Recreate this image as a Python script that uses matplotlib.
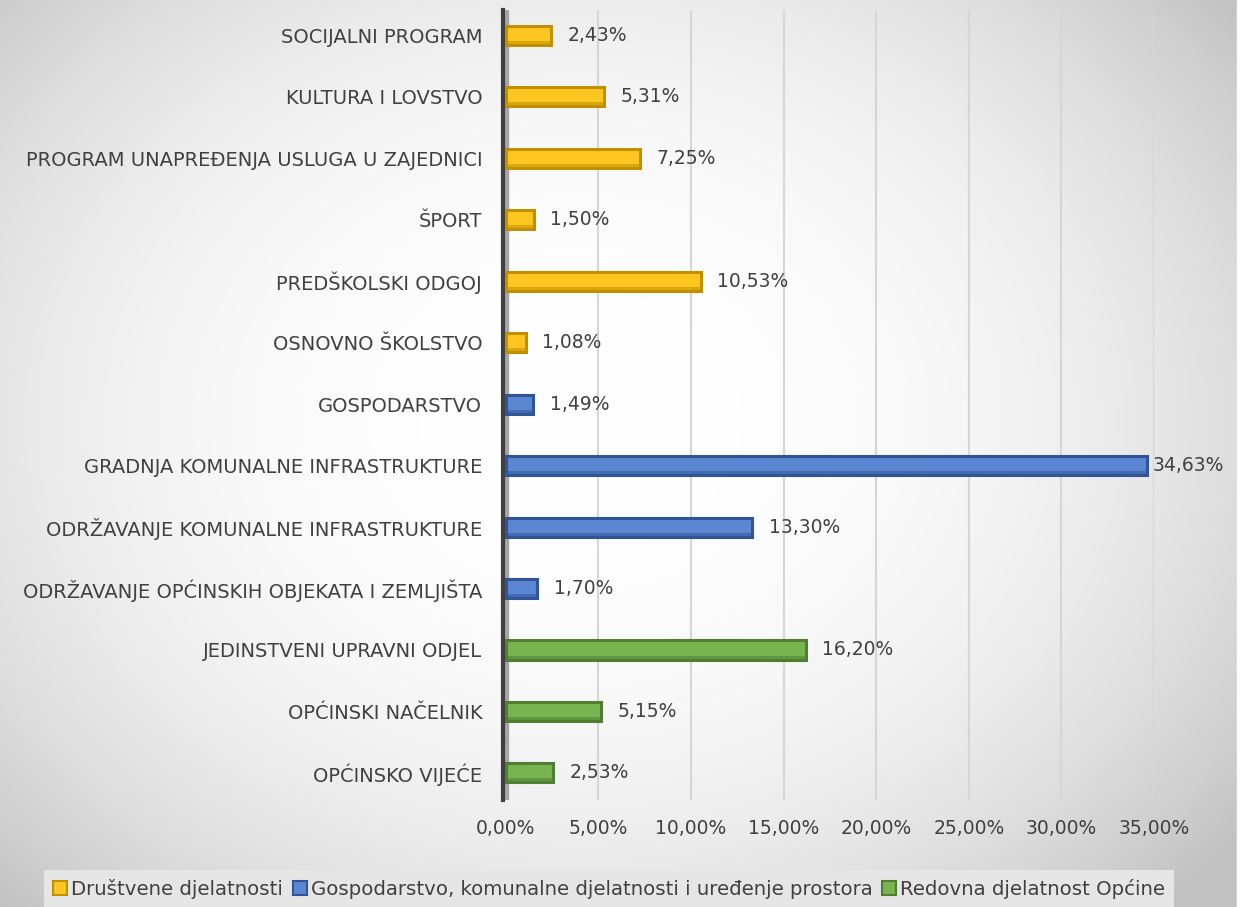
import matplotlib.pyplot as plt
from matplotlib.patches import Patch, Rectangle
import numpy as np

# categories top to bottom
categories = [
    "SOCIJALNI PROGRAM",
    "KULTURA I LOVSTVO",
    "PROGRAM UNAPREĐENJA USLUGA U ZAJEDNICI",
    "ŠPORT",
    "PREDŠKOLSKI ODGOJ",
    "OSNOVNO ŠKOLSTVO",
    "GOSPODARSTVO",
    "GRADNJA KOMUNALNE INFRASTRUKTURE",
    "ODRŽAVANJE KOMUNALNE INFRASTRUKTURE",
    "ODRŽAVANJE OPĆINSKIH OBJEKATA I ZEMLJIŠTA",
    "JEDINSTVENI UPRAVNI ODJEL",
    "OPĆINSKI NAČELNIK",
    "OPĆINSKO VIJEĆE",
]
values = [2.43, 5.31, 7.25, 1.50, 10.53, 1.08, 1.49, 34.63, 13.30, 1.70, 16.20, 5.15, 2.53]
groups = [0, 0, 0, 0, 0, 0, 1, 1, 1, 1, 2, 2, 2]
group_names = ["Društvene djelatnosti",
               "Gospodarstvo, komunalne djelatnosti i uređenje prostora",
               "Redovna djelatnost Općine"]
xticks = [0, 5, 10, 15, 20, 25, 30, 35]

face = ["#FFC520", "#5B86D1", "#78B450"]
edge = ["#BF9000", "#2F5597", "#507E32"]

W, H = 1243, 907
fig = plt.figure(figsize=(W / 100, H / 100), dpi=100)

# radial background like the excel chart area
bg = fig.add_axes([0, 0, 1, 1], zorder=-10)
yy, xx = np.mgrid[0:H, 0:W]
d = np.sqrt(((xx - 580) / 760.0) ** 2 + ((yy - 420) / 620.0) ** 2)
shade = 1.0 - 0.19 * np.clip(d, 0, 1.1) ** 2.5
bg.imshow(np.dstack([shade] * 3), aspect="auto", extent=[0, W, H, 0])
bg.add_patch(Rectangle((1237, 0), 6, H, color="white"))
bg.set_xlim(0, W)
bg.set_ylim(H, 0)
bg.axis("off")

ax = fig.add_axes([503 / W, 107 / H, 651 / W, 790 / H])
ax.set_facecolor("none")

y = np.arange(len(categories))
for i in range(len(categories)):
    g = groups[i]
    ax.barh(y[i], values[i], height=0.31, color=face[g], edgecolor=edge[g],
            linewidth=2.2, zorder=3)
    # darker lower rim to fake the 3d depth
    ax.barh(y[i] + 0.115, values[i], height=0.05, color=edge[g], linewidth=0,
            alpha=0.55, zorder=4)
    ax.annotate(f"{values[i]:.2f}".replace(".", ",") + "%", (values[i], y[i]),
                xytext=(12 if values[i] < 30 else 4, 0), textcoords="offset points",
                ha="left", va="center", fontsize=13.5, color="#404040", zorder=5)

ax.set_xlim(-0.15, 35)
ax.set_ylim(12.44, -0.41)
ax.set_yticks(y)
ax.set_yticklabels(categories, fontsize=14, color="#404040")
ax.set_xticks(xticks)
ax.set_xticklabels([f"{t:.2f}".replace(".", ",") + "%" for t in xticks],
                   fontsize=13.5, color="#404040")
ax.tick_params(axis="both", length=0)
ax.tick_params(axis="x", pad=14)
ax.tick_params(axis="y", pad=15)
for t in xticks[1:]:
    ax.axvline(t, color="#d6d6d6", linewidth=1.5, zorder=1)

for s in ["top", "right", "bottom"]:
    ax.spines[s].set_visible(False)
ax.spines["left"].set_color("#404040")
ax.spines["left"].set_linewidth(3)
ax.axvspan(-0.1, 0.1, color="#a6a6a6", zorder=2)

handles = [Patch(facecolor=face[i], edgecolor=edge[i], linewidth=1.5) for i in range(3)]
leg = fig.legend(handles, group_names, loc="lower center", bbox_to_anchor=(0.49, -0.012),
                 ncol=3, frameon=True, fontsize=14.2, handlelength=0.7, handleheight=0.7,
                 handletextpad=0.2, columnspacing=0.5, borderpad=0.45, fancybox=False)
leg.get_frame().set_facecolor("#e6e6e6")
leg.get_frame().set_edgecolor("none")
leg.get_frame().set_alpha(1)
for t in leg.get_texts():
    t.set_color("#404040")

fig.savefig("out.png", dpi=100)
